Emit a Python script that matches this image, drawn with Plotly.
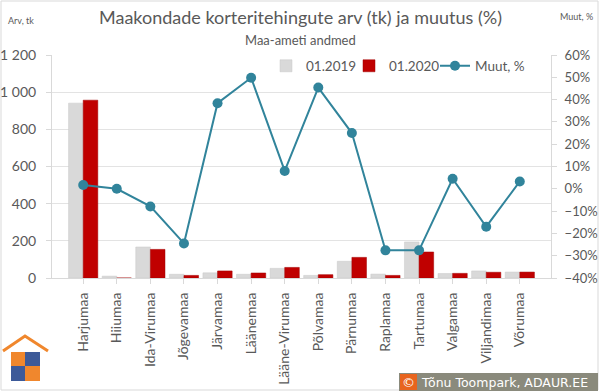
import plotly.graph_objects as go

categories = ["Harjumaa", "Hiiumaa", "Ida-Virumaa", "Jõgevamaa", "Järvamaa", "Läänemaa",
              "Lääne-Virumaa", "Põlvamaa", "Pärnumaa", "Raplamaa", "Tartumaa", "Valgamaa",
              "Viljandimaa", "Võrumaa"]
arv_2019 = [941, 10, 167, 20, 28, 20, 52, 14, 90, 21, 194, 24, 38, 32]
arv_2020 = [957, 0, 154, 14, 38, 27, 57, 18, 111, 14, 140, 25, 31, 32]
muut_pct = [1.7, 0.0, -7.9, -24.5, 38.4, 49.8, 8.0, 45.4, 25.0, -27.6, -27.6, 4.5, -17.0, 3.3]

W, H = 600, 392
L, R, T, B = 52, 49, 55, 114
PW, PH = W - L - R, H - T - B

def px(x):
    return (x - L) / PW

def py(y):
    return (H - B - y) / PH

FONT = "Lato"
GREY = "#595959"
TEAL = "#31849b"

fig = go.Figure()
fig.add_trace(go.Bar(x=categories, y=arv_2019, name="01.2019", legend="legend",
                     marker=dict(color="#d9d9d9", line=dict(color="#c8c8c8", width=0.5))))
fig.add_trace(go.Bar(x=categories, y=arv_2020, name="01.2020", legend="legend2",
                     marker=dict(color="#c00000", line=dict(color="#a00000", width=0.5))))
fig.add_trace(go.Scatter(x=categories, y=muut_pct, name="Muut, %", yaxis="y2", legend="legend3",
                         mode="lines+markers", line=dict(color=TEAL, width=2),
                         marker=dict(color=TEAL, size=10)))

def leg(xpix):
    return dict(orientation="h", x=px(xpix), y=py(66), xanchor="left", yanchor="middle",
                font=dict(size=13.5, color=GREY), bgcolor="rgba(0,0,0,0)",
                itemwidth=30)

fig.update_layout(
    width=W, height=H, margin=dict(l=L, r=R, t=T, b=B, autoexpand=False),
    paper_bgcolor="white", plot_bgcolor="white",
    separators=", ",
    font=dict(family=FONT, color=GREY, size=14),
    barmode="group", bargap=0.13, bargroupgap=0,
    showlegend=True,
    legend=leg(266), legend2=leg(349), legend3=leg(435),
    xaxis=dict(tickangle=-90, showline=True, linecolor="#d9d9d9", ticks="outside",
               ticklen=5, tickcolor="#d9d9d9", ticklabelstandoff=3, automargin=False,
               tickfont=dict(size=14, color=GREY)),
    yaxis=dict(range=[0, 1200], dtick=200, tickformat=",d", showgrid=True,
               gridcolor="#e3e3e3", zeroline=False, showline=True, linecolor="#d9d9d9",
               ticks="outside", ticklen=5, tickcolor="#d9d9d9", ticklabelstandoff=7,
               automargin=False, tickfont=dict(size=14, color=GREY)),
    yaxis2=dict(range=[-40, 60], dtick=10, ticksuffix="%", overlaying="y", side="right",
                showgrid=False, zeroline=False, showline=True, linecolor="#d9d9d9",
                ticks="outside", ticklen=5, tickcolor="#d9d9d9", ticklabelstandoff=5,
                automargin=False, tickfont=dict(size=13, color=GREY)),
)

annotations = [
    dict(text="Maakondade korteritehingute arv (tk) ja muutus (%)", x=px(300), y=py(17),
         font=dict(size=18, color=GREY)),
    dict(text="Maa-ameti andmed", x=px(300), y=py(40), font=dict(size=13, color=GREY)),
    dict(text="Arv, tk", x=px(6), y=py(20), xanchor="left", font=dict(size=9, color=GREY)),
    dict(text="Muut, %", x=px(558), y=py(17), xanchor="left", font=dict(size=9, color=GREY)),
    dict(text="©", x=px(408.5), y=py(382), font=dict(size=13, color="white", family="DejaVu Sans")),
    dict(text="Tõnu Toompark, ADAUR.EE", x=px(419), y=py(382), xanchor="left",
         font=dict(size=12.5, color="white", family="DejaVu Sans")),
]
for a in annotations:
    a.update(xref="paper", yref="paper", showarrow=False)
    a.setdefault("xanchor", "center")
    a.setdefault("yanchor", "middle")
fig.update_layout(annotations=annotations)

def rect(x0, y0, x1, y1, fill, line=None, lw=0):
    return dict(type="rect", xref="paper", yref="paper", x0=px(x0), x1=px(x1),
                y0=py(y1), y1=py(y0), fillcolor=fill, layer="above",
                line=dict(color=line or fill, width=lw))

ORANGE = "#f0872d"
BLUE = "#3d5a99"
shapes = [
    dict(type="rect", xref="paper", yref="paper", x0=px(1), x1=px(598), y0=py(390), y1=py(1),
         line=dict(color="#d9d9d9", width=1), fillcolor="rgba(0,0,0,0)", layer="below"),
    rect(399, 373, 598, 391, "#8a8a7c"),
    rect(400, 374, 417, 390, "#e8641e"),
    dict(type="path", xref="paper", yref="paper",
         path=f"M {px(3)},{py(351)} L {px(25)},{py(336)} L {px(48)},{py(351)}",
         line=dict(color=ORANGE, width=3), layer="above"),
    rect(11, 352, 25, 366, ORANGE),
    rect(25, 352, 40, 366, BLUE),
    rect(11, 366, 25, 381, BLUE),
    rect(25, 366, 40, 381, ORANGE),
]
fig.update_layout(shapes=shapes)

fig.write_html("out.html", config={"displayModeBar": False},
               post_script="document.body.style.margin='0px';")
